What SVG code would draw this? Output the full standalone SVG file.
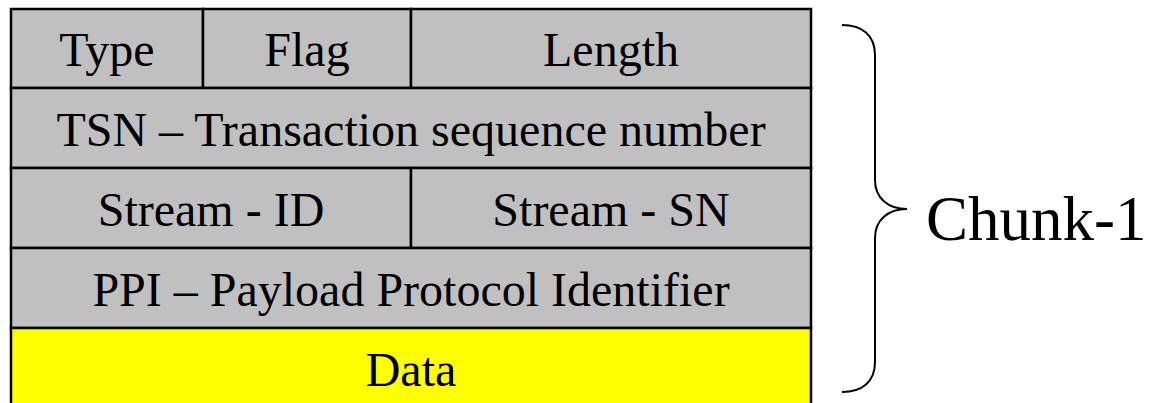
<svg xmlns="http://www.w3.org/2000/svg" width="1149" height="403" viewBox="0 0 1149 403">
  <style>
    .cell { fill: #C0C0C0; stroke: #000; stroke-width: 2.5; }
    .data { fill: #FFFF00; stroke: #000; stroke-width: 2.5; }
    .lbl { font-family: "Liberation Serif", "Times New Roman", serif; font-size: 48px; fill: #000; text-anchor: middle; }
    .big { font-family: "Liberation Serif", "Times New Roman", serif; font-size: 63px; fill: #000; }
    .brace { fill: none; stroke: #000; stroke-width: 2; }
  </style>
  <rect width="1149" height="403" fill="#fff"/>

  <g id="type">
    <rect class="cell" x="11" y="9" width="192" height="79"/>
    <text class="lbl" x="107" y="66">Type</text>
  </g>
  <g id="flag">
    <rect class="cell" x="203" y="9" width="208" height="79"/>
    <text class="lbl" x="307" y="66">Flag</text>
  </g>
  <g id="length">
    <rect class="cell" x="411" y="9" width="400" height="79"/>
    <text class="lbl" x="611" y="66">Length</text>
  </g>
  <g id="tsn">
    <rect class="cell" x="11" y="88" width="800" height="80"/>
    <text class="lbl" x="411" y="146">TSN – Transaction sequence number</text>
  </g>
  <g id="stream-id">
    <rect class="cell" x="11" y="168" width="400" height="80"/>
    <text class="lbl" x="211" y="226">Stream - ID</text>
  </g>
  <g id="stream-sn">
    <rect class="cell" x="411" y="168" width="400" height="80"/>
    <text class="lbl" x="611" y="226">Stream - SN</text>
  </g>
  <g id="ppi">
    <rect class="cell" x="11" y="248" width="800" height="80"/>
    <text class="lbl" x="411" y="306">PPI – Payload Protocol Identifier</text>
  </g>
  <g id="data">
    <rect class="data" x="11" y="328" width="800" height="90"/>
    <text class="lbl" x="411" y="386">Data</text>
  </g>

  <g id="connectors">
    <path class="brace" d="M842,25 C862,25 875,35 875,55 L875,180 C875,198 888,209 907,209 C888,209 875,220 875,238 L875,362 C875,382 862,392 842,392"/>
  </g>

  <g id="chunk-label">
    <text class="big" x="926" y="240">Chunk-1</text>
  </g>
</svg>
